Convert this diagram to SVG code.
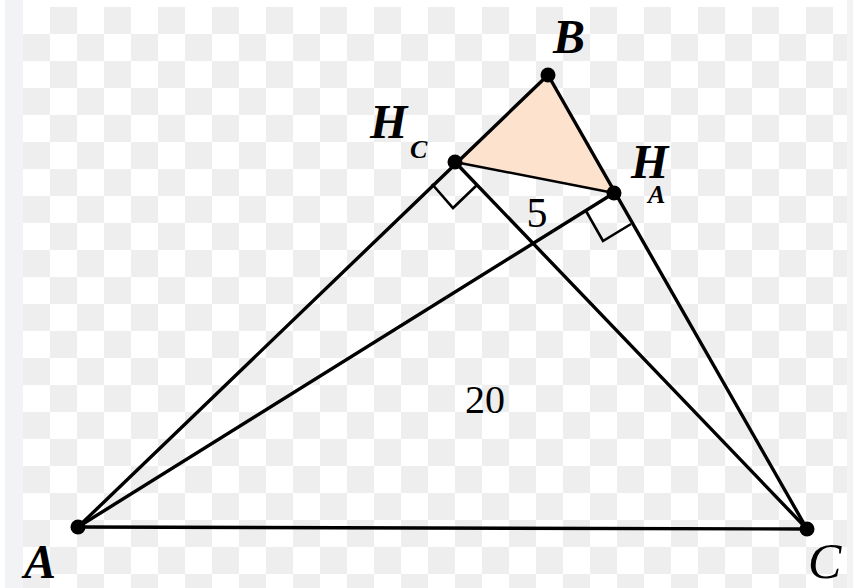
<svg xmlns="http://www.w3.org/2000/svg" width="853" height="588" viewBox="0 0 853 588">
<style>
.ln{stroke:#000;stroke-width:3.4;fill:none;stroke-linecap:round}
.thin{stroke:#000;stroke-width:2.4;fill:none}
.mk{stroke:#000;stroke-width:2.6;fill:none}
.pt{fill:#000}
.lbl{font-style:italic;font-weight:bold;fill:#000}
.num{fill:#000;text-anchor:middle}
</style>
<defs>
<pattern id="chk" x="23" y="7" width="54" height="54" patternUnits="userSpaceOnUse">
<rect x="27" y="0" width="27" height="27" fill="#eeeeee"/>
<rect x="0" y="27" width="27" height="27" fill="#eeeeee"/>
</pattern>
</defs>
<rect width="853" height="588" fill="#fff"/>
<rect x="23" y="7" width="824" height="581" fill="url(#chk)"/>
<rect x="5" y="0" width="18" height="588" fill="#f2f3f5"/>
<rect x="847" y="0" width="6" height="588" fill="#f2f3f5"/>
<g id="shade">
<polygon points="548,75 455,162 614,193" fill="#fde2ce"/>
</g>
<g id="connectors">
<line class="ln" x1="78" y1="527" x2="548" y2="75"/>
<line class="ln" x1="548" y1="75" x2="807" y2="529"/>
<line class="ln" x1="78" y1="527" x2="807" y2="529"/>
<line class="ln" x1="78" y1="527" x2="614" y2="193"/>
<line class="ln" x1="807" y1="529" x2="455" y2="162"/>
<line class="thin" x1="455" y1="162" x2="614" y2="193"/>
<polyline class="mk" points="432,184 453,208 477,185"/>
<polyline class="mk" points="586,211 603,241 631,224"/>
</g>
<g id="A"><circle class="pt" cx="78" cy="527" r="7.5"/><text class="lbl" font-family="Liberation Serif, serif" x="24" y="578" font-size="48">A</text></g>
<g id="B"><circle class="pt" cx="548" cy="75" r="7.5"/><text class="lbl" font-family="Liberation Serif, serif" x="553" y="53" font-size="48">B</text></g>
<g id="C"><circle class="pt" cx="807" cy="529" r="7.5"/><text x="808" y="578" font-size="50" font-family="Liberation Serif, serif" font-style="italic">C</text></g>
<g id="Hc"><circle class="pt" cx="455" cy="162" r="7.5"/><text class="lbl" font-family="Liberation Serif, serif" x="370" y="138" font-size="48">H<tspan font-size="26" x="410" y="158">C</tspan></text></g>
<g id="Ha"><circle class="pt" cx="614" cy="193" r="7.5"/><text class="lbl" font-family="Liberation Serif, serif" x="631" y="178" font-size="48">H<tspan font-size="26" x="648" y="203">A</tspan></text></g>
<g id="labels">
<text class="num" font-family="Liberation Serif, serif" x="537" y="227" font-size="42">5</text>
<text class="num" font-family="Liberation Serif, serif" x="485" y="413" font-size="40">20</text>
</g>
</svg>
